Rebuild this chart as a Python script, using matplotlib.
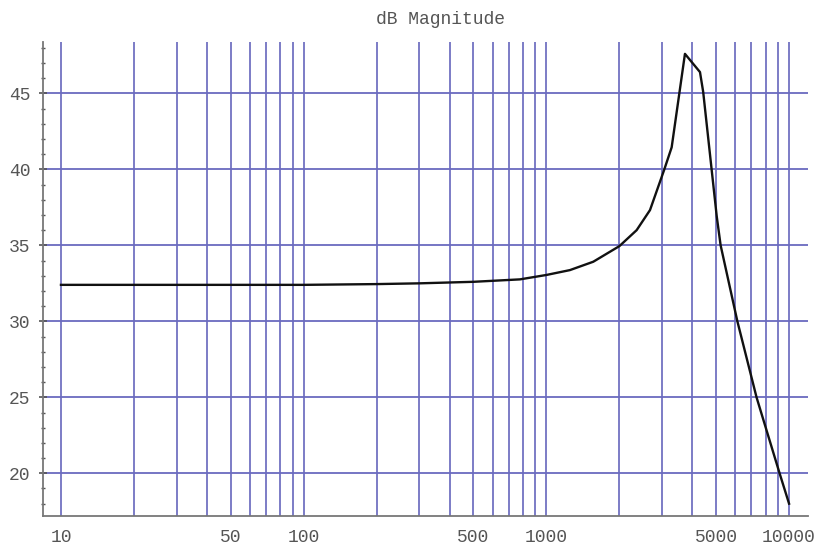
import matplotlib
matplotlib.use("Agg")
import matplotlib.pyplot as plt
import numpy as np
from matplotlib.ticker import FixedLocator, MultipleLocator, NullFormatter

# Data
freq = [10, 20, 50, 100, 200, 300, 500, 778, 1000, 1250, 1560, 2000, 2355,
        2673, 3055, 3283, 3724, 4295, 4427, 5035, 5224, 6124, 7345, 9140, 10000]
mag_db = [32.4, 32.4, 32.4, 32.4, 32.45, 32.5, 32.6, 32.76, 33.05, 33.37, 33.92,
          34.95, 36.0, 37.32, 39.95, 41.45, 47.6, 46.4, 45.1, 36.9, 35.0, 30.0,
          25.0, 20.0, 18.0]

xtick_vals = [10, 50, 100, 500, 1000, 5000, 10000]
xtick_labels = ["10", "50", "100", "500", "1000", "5000", "10000"]
ytick_vals = [20, 25, 30, 35, 40, 45]
title = "dB Magnitude"

fig = plt.figure(figsize=(8.16, 5.44), dpi=100)
ax = fig.add_axes([43/816, 1-516/544, (808-43)/816, (516-42)/544])

ax.set_xscale("log")
ax.set_xlim(10**0.926, 10**4.078)
ax.set_ylim(17.19, 48.38)

# grid lines
vgrid = [m * 10**d for d in range(1, 4) for m in range(1, 10)] + [10000]
for v in vgrid:
    ax.axvline(v, color="#7272c2", lw=1.3, zorder=1)
for h in ytick_vals:
    ax.axhline(h, color="#6a6abf", lw=1.3, zorder=1)

ax.plot(freq, mag_db, color="#111111", lw=1.7, zorder=3)

ax.xaxis.set_major_locator(FixedLocator(xtick_vals))
ax.xaxis.set_minor_locator(FixedLocator([]))
ax.set_xticklabels(xtick_labels)
ax.xaxis.set_minor_formatter(NullFormatter())
ax.yaxis.set_major_locator(FixedLocator(ytick_vals))
ax.yaxis.set_minor_locator(MultipleLocator(1))

for s in ["top", "right"]:
    ax.spines[s].set_visible(False)
for s in ["left", "bottom"]:
    ax.spines[s].set_color("#777777")
    ax.spines[s].set_linewidth(1.3)

font = "Liberation Mono"
ax.tick_params(axis="x", which="both", length=0, pad=9, labelsize=13,
               labelcolor="#555555")
ax.tick_params(axis="y", which="major", direction="inout", length=6, width=1.2,
               color="#555555", pad=6, labelsize=13, labelcolor="#555555")
ax.tick_params(axis="y", which="minor", direction="inout", length=3, width=1.0,
               color="#555555")
for lab in ax.get_xticklabels() + ax.get_yticklabels():
    lab.set_fontfamily(font)

fig.text(440/816, 1-20/544, title, ha="center", va="center", fontsize=13,
         family=font, color="#555555")

fig.savefig("out.png", dpi=100)
